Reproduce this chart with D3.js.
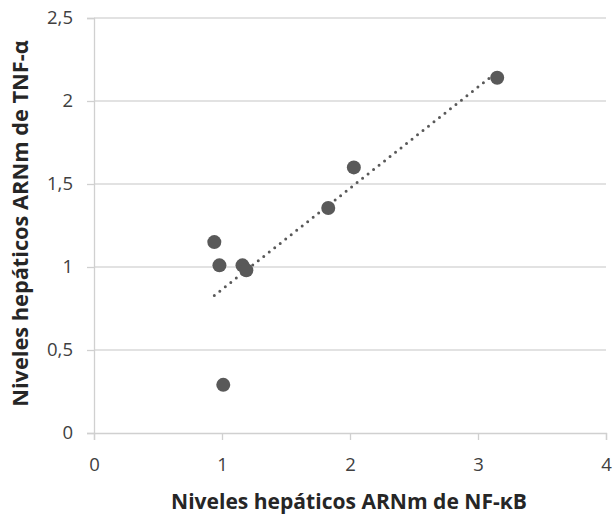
<!DOCTYPE html>
<html><head><meta charset="utf-8">
<script src="https://cdn.jsdelivr.net/npm/d3@7"></script>
<style>body{margin:0;background:#fff}svg{display:block}</style>
</head><body>
<svg id="c" width="613" height="518"></svg>
<script>
const xVals = [0.94, 0.98, 1.01, 1.16, 1.19, 1.83, 2.03, 3.15];
const yVals = [1.15, 1.01, 0.29, 1.01, 0.98, 1.355, 1.60, 2.14];
const xTicks = [0, 1, 2, 3, 4];
const yTicks = [0, 0.5, 1, 1.5, 2, 2.5];
const xTitle = "Niveles hepáticos ARNm de NF-κB";
const yTitle = "Niveles hepáticos ARNm de TNF-α";

const svg = d3.select("#c");
const x = d3.scaleLinear().domain([0, 4]).range([94, 606]);
const y = d3.scaleLinear().domain([0, 2.5]).range([433, 18]);
const fmt = d => String(d).replace(".", ",");
const font = "'Open Sans', sans-serif";

// gridlines
svg.append("g").selectAll("line").data(yTicks.filter(d => d > 0)).join("line")
  .attr("x1", x(0)).attr("x2", x(4)).attr("y1", d => y(d)).attr("y2", d => y(d))
  .attr("stroke", "#d9d9d9").attr("stroke-width", 1.3);

const gx = svg.append("g").attr("transform", `translate(0,${y(0)})`)
  .call(d3.axisBottom(x).tickValues(xTicks).tickFormat(fmt).tickSize(7).tickPadding(18));
const gy = svg.append("g").attr("transform", `translate(${x(0)},0)`)
  .call(d3.axisLeft(y).tickValues(yTicks).tickFormat(fmt).tickSize(7).tickPadding(14));
[gx, gy].forEach(g => {
  g.select(".domain").attr("stroke", "#d0d0d0").attr("stroke-width", 1.3);
  g.selectAll(".tick line").attr("stroke", "#d0d0d0").attr("stroke-width", 1.3);
  g.selectAll("text").attr("font-family", font).attr("font-size", 18.5).attr("fill", "#404040");
});

// trendline (least squares)
const n = xVals.length;
const mx = d3.mean(xVals), my = d3.mean(yVals);
let sxy = 0, sxx = 0;
for (let i = 0; i < n; i++) { sxy += (xVals[i]-mx)*(yVals[i]-my); sxx += (xVals[i]-mx)**2; }
const b = sxy / sxx, a = my - b * mx;
const x0 = d3.min(xVals), x1 = d3.max(xVals);
svg.append("line")
  .attr("x1", x(x0)).attr("y1", y(a + b*x0)).attr("x2", x(x1)).attr("y2", y(a + b*x1))
  .attr("stroke", "#595959").attr("stroke-width", 3).attr("stroke-linecap", "round")
  .attr("stroke-dasharray", "0 7");

// points
svg.append("g").selectAll("circle").data(xVals.map((v, i) => [v, yVals[i]])).join("circle")
  .attr("cx", d => x(d[0])).attr("cy", d => y(d[1])).attr("r", 7).attr("fill", "#595959");

function fitText(t, target) {
  const w = t.node().getComputedTextLength();
  const fs = +t.attr("font-size");
  t.attr("font-size", fs * target / w);
}
const tx = svg.append("text").attr("x", 349).attr("y", 509).attr("text-anchor", "middle")
  .attr("font-family", font).attr("font-size", 16).attr("font-weight", "bold").attr("fill", "#262626")
  .text(xTitle);
fitText(tx, 356);
const ty = svg.append("text").attr("transform", "translate(28,223.5) rotate(-90)").attr("text-anchor", "middle")
  .attr("font-family", font).attr("font-size", 16).attr("font-weight", "bold").attr("fill", "#262626")
  .text(yTitle);
fitText(ty, 367);
</script>
</body></html>
